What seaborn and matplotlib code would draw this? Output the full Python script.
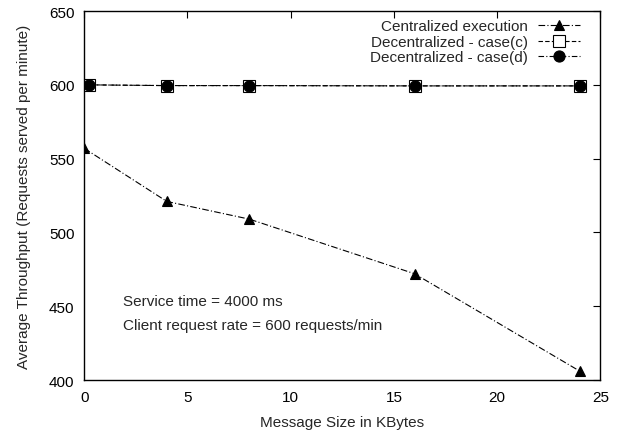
import matplotlib
matplotlib.use("Agg")
import matplotlib.pyplot as plt
import seaborn as sns
import pandas as pd

# Message sizes (KBytes) and measured throughput (requests/min)
central_x = [0, 4, 8, 16, 24]
central_y = [557, 521, 509, 472, 406]
decent_x = [0.25, 4, 8, 16, 24]
decent_c = [600, 599.5, 599.5, 599.3, 599.3]
decent_d = [600, 599.5, 599.5, 599.3, 599.3]

series_names = ["Centralized execution",
                "Decentralized - case(c)",
                "Decentralized - case(d)"]

x_ticks = [0, 5, 10, 15, 20, 25]
y_ticks = [400, 450, 500, 550, 600, 650]

sns.set_theme(style="white")
plt.rcParams["font.family"] = ["Liberation Sans", "DejaVu Sans"]

FS = 11

df = pd.concat([
    pd.DataFrame({"size": central_x, "thr": central_y, "series": series_names[0]}),
    pd.DataFrame({"size": decent_x, "thr": decent_c, "series": series_names[1]}),
    pd.DataFrame({"size": decent_x, "thr": decent_d, "series": series_names[2]}),
])

fig, ax = plt.subplots(figsize=(6.19, 4.31), dpi=100)
fig.subplots_adjust(left=0.136, right=0.970, top=0.972, bottom=0.116)

styles = {
    series_names[0]: dict(marker="^", mfc="black", ms=7, dashes=(6, 2, 1, 2)),
    series_names[1]: dict(marker="s", mfc="white", ms=8, dashes=(4, 2)),
    series_names[2]: dict(marker="o", mfc="black", ms=8, dashes=(5, 2, 1, 2)),
}

for name in series_names:
    st = styles[name]
    sub = df[df["series"] == name]
    sns.lineplot(data=sub, x="size", y="thr", ax=ax, color="black", lw=0.8,
                 marker=st["marker"], markersize=st["ms"],
                 markerfacecolor=st["mfc"], markeredgecolor="black",
                 markeredgewidth=0.8, dashes=False, label=name)
    ax.lines[-1].set_dashes(st["dashes"])

ax.set_xlim(0, 25)
ax.set_ylim(400, 650)
ax.set_xticks(x_ticks)
ax.set_yticks(y_ticks)
ax.tick_params(direction="in", length=5, width=0.8, top=True, right=True,
               labelsize=FS, colors="black", pad=7)
for s in ax.spines.values():
    s.set_color("black")
    s.set_linewidth(1.0)

ax.set_xlabel("Message Size in KBytes", fontsize=FS, labelpad=8)
ax.set_ylabel("Average Throughput (Requests served per minute)", fontsize=FS, labelpad=13)

ax.text(1.9, 453.5, "Service time = 4000 ms", fontsize=FS, va="center")
ax.text(1.9, 437, "Client request rate = 600 requests/min", fontsize=FS, va="center")

leg = ax.legend(loc="upper right", bbox_to_anchor=(0.973, 0.994), frameon=False,
                markerfirst=False, fontsize=FS, handlelength=2.75,
                borderaxespad=0.0, labelspacing=0.1, handletextpad=0.7)

fig.savefig("out.png", dpi=100)
